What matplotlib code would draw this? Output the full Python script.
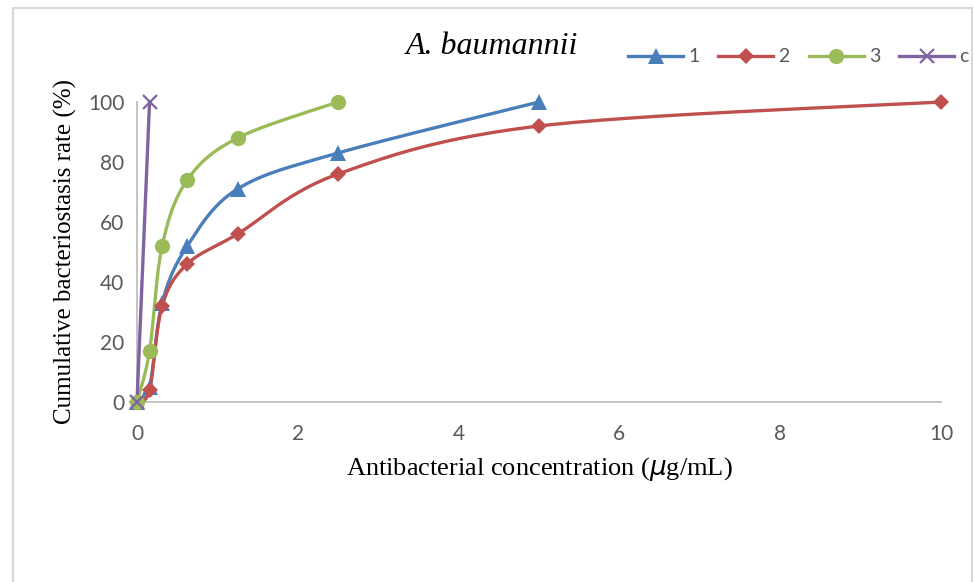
import numpy as np
import matplotlib.pyplot as plt
from matplotlib.patches import Rectangle

# concentrations (ug/mL) and cumulative bacteriostasis rate (%)
x1 = [0, 0.156, 0.3125, 0.625, 1.25, 2.5, 5]
y1 = [0, 5, 33, 52, 71, 83, 100]
x2 = [0, 0.156, 0.3125, 0.625, 1.25, 2.5, 5, 10]
y2 = [0, 4, 32, 46, 56, 76, 92, 100]
x3 = [0, 0.156, 0.3125, 0.625, 1.25, 2.5]
y3 = [0, 17, 52, 74, 88, 100]
xc = [0, 0.156]
yc = [0, 100]

series_names = ['1', '2', '3', 'c']
colors = ['#4A7EBB', '#C0504D', '#9BBB59', '#8064A2']
markers = ['^', 'D', 'o', 'x']
msizes = [11, 8, 11, 10]

W, H = 974, 582
fig = plt.figure(figsize=(W / 100, H / 100), dpi=100)
fig.add_artist(Rectangle((12.5 / W, -0.05), (972 - 12.5) / W, (H - 7.5) / H + 0.05,
                         transform=fig.transFigure, fill=False,
                         edgecolor='#D9D9D9', linewidth=1.5))

ax = fig.add_axes([137 / W, (H - 402) / H, (941 - 137) / W, 300 / H])
ax.set_xlim(0, 10)
ax.set_ylim(0, 100)


def smooth(xs, ys, n=30):
    # Catmull-Rom style bezier smoothing done in pixel space
    sx, sy = 804 / 10.0, 300 / 100.0
    p = np.column_stack([np.array(xs) * sx, np.array(ys) * sy])
    if len(p) < 3:
        return np.array(xs), np.array(ys)
    pts = []
    for i in range(len(p) - 1):
        p0 = p[i - 1] if i > 0 else p[i]
        p1, p2 = p[i], p[i + 1]
        p3 = p[i + 2] if i + 2 < len(p) else p[i + 1]
        c1 = p1 + (p2 - p0) / 6.0
        c2 = p2 - (p3 - p1) / 6.0
        t = np.linspace(0, 1, n)[:, None]
        seg = ((1 - t) ** 3 * p1 + 3 * (1 - t) ** 2 * t * c1
               + 3 * (1 - t) * t ** 2 * c2 + t ** 3 * p2)
        pts.append(seg if i == 0 else seg[1:])
    pts = np.vstack(pts)
    return pts[:, 0] / sx, pts[:, 1] / sy


data = [(x1, y1), (x2, y2), (x3, y3), (xc, yc)]
for (xs, ys), name, col, mk, ms in zip(data, series_names, colors, markers, msizes):
    sxs, sys_ = smooth(xs, ys)
    ax.plot(sxs, sys_, color=col, linewidth=2.4, clip_on=False, zorder=3)
    mew = 1.6 if mk == 'x' else 0
    ax.plot(xs, ys, linestyle='none', marker=mk, markersize=ms,
            color=col, markeredgewidth=mew, clip_on=False, zorder=4)
    ax.plot([], [], color=col, linewidth=2.4, marker=mk, markersize=ms,
            markeredgewidth=mew, label=name)

for side in ['top', 'right']:
    ax.spines[side].set_visible(False)
for side in ['left', 'bottom']:
    ax.spines[side].set_color('#BFBFBF')
    ax.spines[side].set_linewidth(1.3)

ax.set_xticks([0, 2, 4, 6, 8, 10])
ax.set_yticks([0, 20, 40, 60, 80, 100])
ax.tick_params(axis='both', length=0, labelsize=15, labelcolor='#595959')
ax.tick_params(axis='x', pad=16)
ax.tick_params(axis='y', pad=9)
for lab in ax.get_xticklabels() + ax.get_yticklabels():
    lab.set_fontfamily('Lato')

ax.set_xlabel('Antibacterial concentration ($\\mu$g/mL)', fontsize=19,
              family='Liberation Serif', labelpad=8)
ax.set_ylabel('Cumulative bacteriostasis rate (%)', fontsize=18,
              family='Liberation Serif', labelpad=8)

fig.text(492 / W, 1 - 47 / H, 'A. baumannii', fontsize=23, style='italic',
         family='Liberation Serif', ha='center', va='center')

leg = fig.legend(loc='center left', bbox_to_anchor=(628 / W, 1 - 57 / H),
                 ncol=4, frameon=False, handlelength=2.83, columnspacing=0.98,
                 handletextpad=0.26, borderpad=0, borderaxespad=0,
                 prop={'family': 'Lato', 'size': 14})
for t in leg.get_texts():
    t.set_color('#595959')

fig.savefig('out.png', dpi=100)
